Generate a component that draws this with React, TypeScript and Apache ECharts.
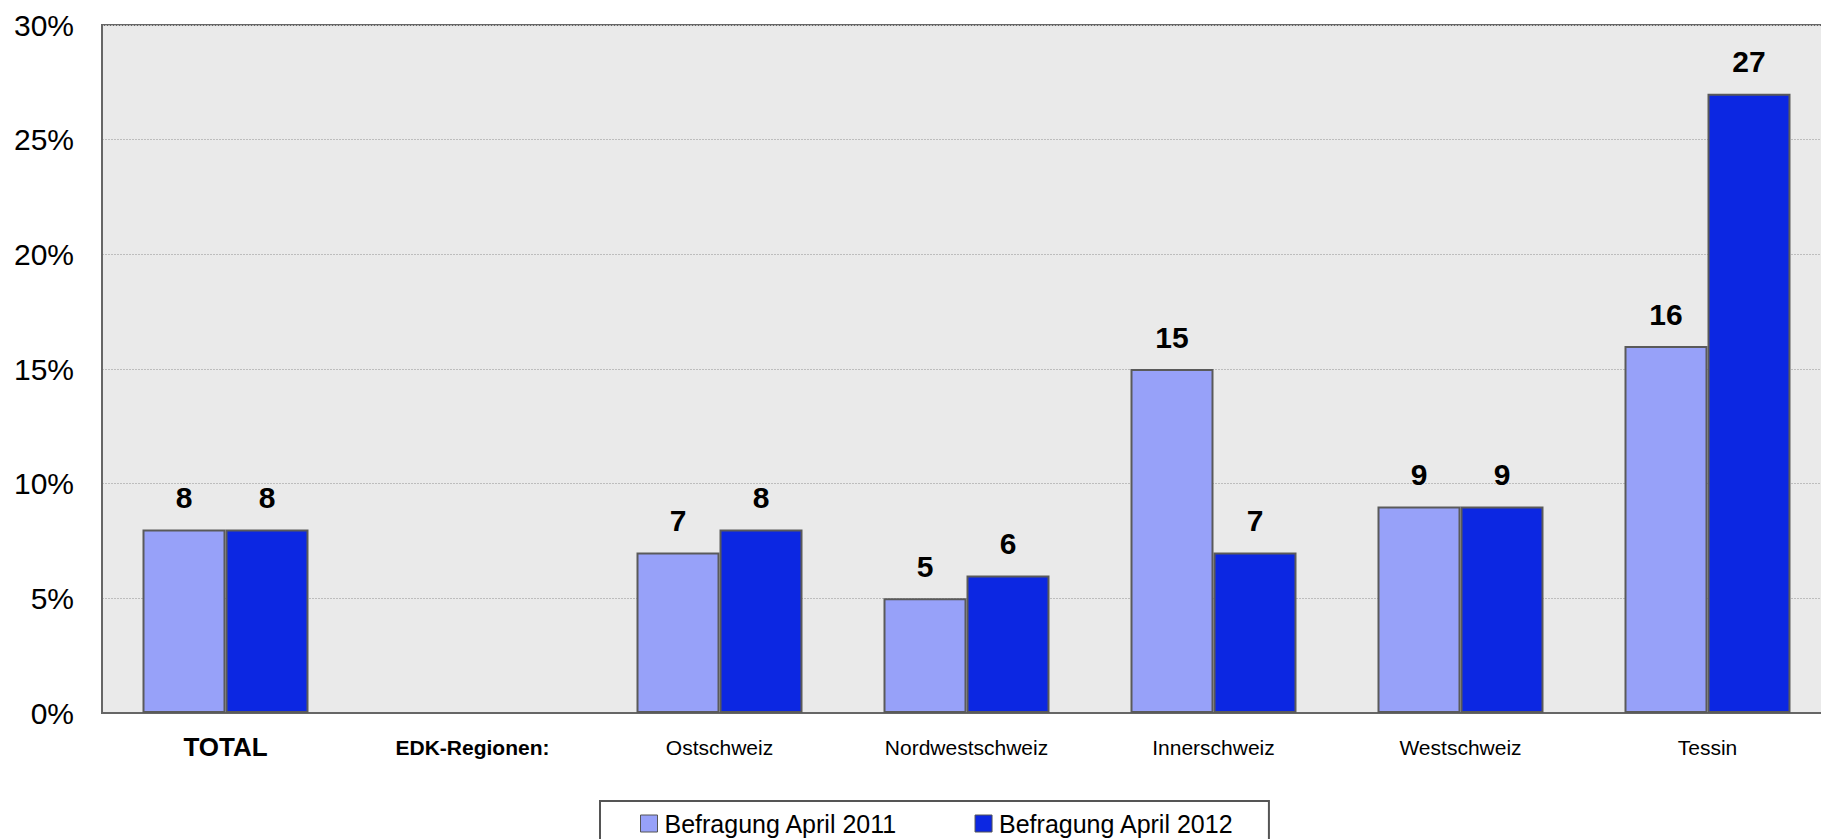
import React, { useEffect, useRef } from "react";
import * as echarts from "echarts";

const categories = ["TOTAL", "EDK-Regionen:", "Ostschweiz", "Nordwestschweiz", "Innerschweiz", "Westschweiz", "Tessin"];
const series2011 = [8, null, 7, 5, 15, 9, 16];
const series2012 = [8, null, 8, 6, 7, 9, 27];
const seriesNames = ["Befragung April 2011", "Befragung April 2012"];
const yTicks = { min: 0, max: 30, interval: 5 };

const FONT = "'Liberation Sans', Arial, sans-serif";

export default function App() {
  const ref = useRef<HTMLDivElement>(null);
  useEffect(() => {
    if (!ref.current) return;
    const chart = echarts.init(ref.current, null, { renderer: "svg" });
    const label = {
      show: true,
      position: "top",
      distance: 17,
      fontFamily: FONT,
      fontSize: 30,
      fontWeight: "bold",
      color: "#000",
    };
    chart.setOption({
      animation: false,
      backgroundColor: "#fff",
      textStyle: { fontFamily: FONT },
      grid: {
        left: 102,
        top: 25,
        width: 1729,
        height: 688,
        show: true,
        backgroundColor: "#eaeaea",
        borderColor: "#666",
        borderWidth: 2,
        containLabel: false,
      },
      legend: {
        left: 600,
        top: 801,
        orient: "horizontal",
        backgroundColor: "#fff",
        borderColor: "#555",
        borderWidth: 2,
        padding: [10, 35, 30, 40],
        itemGap: 77,
        itemWidth: 17,
        itemHeight: 17,
        icon: "rect",
        itemStyle: { borderColor: "#555", borderWidth: 1 },
        textStyle: { fontFamily: FONT, fontSize: 25, color: "#000", padding: [0, 0, 0, 2] },
        data: seriesNames,
      },
      xAxis: {
        type: "category",
        data: categories,
        axisLine: { show: true, lineStyle: { color: "#666", width: 2 } },
        axisTick: { show: false },
        axisLabel: {
          interval: 0,
          margin: 34,
          verticalAlign: "middle",
          color: "#000",
          formatter: (v: string, i: number) =>
            i === 0 ? `{t|${v}}` : i === 1 ? `{e|${v}}` : `{n|${v}}`,
          rich: {
            t: { fontFamily: FONT, fontSize: 26, fontWeight: "bold", color: "#000" },
            e: { fontFamily: FONT, fontSize: 21, fontWeight: "bold", color: "#000" },
            n: { fontFamily: FONT, fontSize: 21, color: "#000" },
          },
        },
      },
      yAxis: {
        type: "value",
        min: yTicks.min,
        max: yTicks.max,
        interval: yTicks.interval,
        axisLine: { show: true, lineStyle: { color: "#666", width: 2 } },
        axisTick: { show: false },
        axisLabel: {
          formatter: "{value}%",
          margin: 28,
          fontFamily: FONT,
          fontSize: 30,
          color: "#000",
        },
        splitLine: { show: true, lineStyle: { color: "#bdbdbd", type: [2, 1], width: 1 } },
      },
      series: [
        {
          name: seriesNames[0],
          type: "bar",
          data: series2011,
          barWidth: 83,
          barGap: "0%",
          itemStyle: { color: "#97a1f9", borderColor: "#5a5a5a", borderWidth: 2 },
          label,
        },
        {
          name: seriesNames[1],
          type: "bar",
          data: series2012,
          barWidth: 83,
          barGap: "0%",
          itemStyle: { color: "#0c27e2", borderColor: "#5a5a5a", borderWidth: 2 },
          label,
        },
      ],
    });
    return () => chart.dispose();
  }, []);
  return (
    <div
      style={{ position: "absolute", left: 0, top: 0, width: 1821, height: 839, overflow: "hidden" }}
    >
      <div ref={ref} style={{ width: 1845, height: 839 }} />
    </div>
  );
}
